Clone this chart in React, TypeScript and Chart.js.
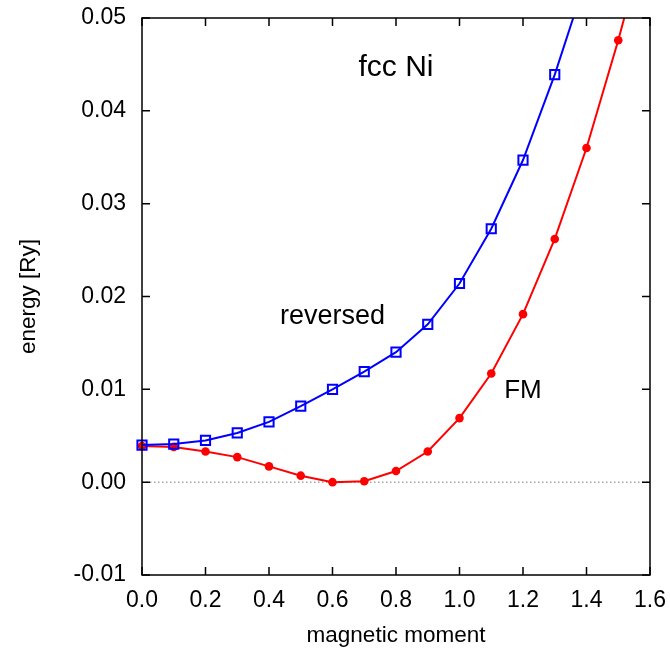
import React, { useEffect, useRef } from "react";
import { Chart, registerables } from "chart.js";

Chart.register(...registerables);

const moments = [0.0, 0.1, 0.2, 0.3, 0.4, 0.5, 0.6, 0.7, 0.8, 0.9, 1.0, 1.1, 1.2, 1.3, 1.4, 1.5, 1.6];
const reversedEnergy = [0.0040, 0.0041, 0.0045, 0.0053, 0.0065, 0.0082, 0.0100, 0.0119, 0.0140, 0.0170, 0.0214, 0.0273, 0.0347, 0.0439, 0.0544];
const fmEnergy = [0.0039, 0.0038, 0.0033, 0.0027, 0.0017, 0.0007, 0.0000, 0.0001, 0.0012, 0.0033, 0.0069, 0.0117, 0.0181, 0.0262, 0.0360, 0.0476, 0.0603];
const xTicks = [0.0, 0.2, 0.4, 0.6, 0.8, 1.0, 1.2, 1.4, 1.6];
const yTicks = [-0.01, 0.0, 0.01, 0.02, 0.03, 0.04, 0.05];
const textLabels = ["fcc Ni", "reversed", "FM"];
const textX = [0.8, 0.6, 1.2];
const textY = [0.0438, 0.0170, 0.0091];
const textSizes = [30, 27, 26];

const FONT = "'Liberation Sans', Arial, Helvetica, sans-serif";

const zeroPad = (s: any) => {
  s.paddingTop = 0;
  s.paddingBottom = 0;
  s.paddingLeft = 0;
  s.paddingRight = 0;
};

export default function App() {
  const ref = useRef<HTMLCanvasElement | null>(null);

  useEffect(() => {
    document.body.style.margin = "0";
    const canvas = ref.current;
    if (!canvas) return;

    const framePlugin = {
      id: "frame",
      beforeDatasetsDraw(chart: any) {
        const { ctx, chartArea: a, scales } = chart;
        const y0 = scales.y.getPixelForValue(0);
        ctx.save();
        ctx.strokeStyle = "#777";
        ctx.lineWidth = 1;
        ctx.setLineDash([1.5, 2.5]);
        ctx.beginPath();
        ctx.moveTo(a.left, y0);
        ctx.lineTo(a.right, y0);
        ctx.stroke();
        ctx.restore();
      },
      afterDraw(chart: any) {
        const { ctx, chartArea: a, scales } = chart;
        const tl = 8;
        ctx.save();
        ctx.strokeStyle = "#000";
        ctx.lineWidth = 1.5;
        ctx.strokeRect(a.left, a.top, a.right - a.left, a.bottom - a.top);
        ctx.beginPath();
        for (const v of xTicks) {
          const px = scales.x.getPixelForValue(v);
          ctx.moveTo(px, a.bottom);
          ctx.lineTo(px, a.bottom - tl);
          ctx.moveTo(px, a.top);
          ctx.lineTo(px, a.top + tl);
        }
        for (const v of yTicks) {
          const py = scales.y.getPixelForValue(v);
          ctx.moveTo(a.left, py);
          ctx.lineTo(a.left + tl, py);
          ctx.moveTo(a.right, py);
          ctx.lineTo(a.right - tl, py);
        }
        ctx.stroke();
        ctx.fillStyle = "#000";
        ctx.textAlign = "center";
        ctx.textBaseline = "alphabetic";
        textLabels.forEach((t, i) => {
          ctx.font = `${textSizes[i]}px ${FONT}`;
          ctx.fillText(t, scales.x.getPixelForValue(textX[i]), scales.y.getPixelForValue(textY[i]));
        });
        ctx.restore();
      },
    };

    const chart = new Chart(canvas, {
      type: "line",
      data: {
        datasets: [
          {
            label: "reversed",
            data: reversedEnergy.map((v, i) => ({ x: moments[i], y: v })),
            borderColor: "#0000ff",
            backgroundColor: "rgba(0,0,0,0)",
            borderWidth: 2,
            pointStyle: "rect",
            pointRadius: 6.5,
            pointBorderWidth: 2,
            pointBorderColor: "#0000ff",
            pointBackgroundColor: "rgba(0,0,0,0)",
            tension: 0,
            order: 0,
            clip: { left: 10, top: 0, right: 0, bottom: 10 },
          } as any,
          {
            label: "FM",
            data: fmEnergy.map((v, i) => ({ x: moments[i], y: v })),
            borderColor: "#ff0000",
            backgroundColor: "#ff0000",
            borderWidth: 2,
            pointStyle: "circle",
            pointRadius: 4.3,
            pointBorderWidth: 0,
            pointBackgroundColor: "#ff0000",
            tension: 0,
            order: 1,
            clip: { left: 10, top: 0, right: 0, bottom: 10 },
          } as any,
        ],
      },
      options: {
        animation: false,
        responsive: false,
        layout: { autoPadding: false, padding: { top: 18, right: 20, left: 0, bottom: 0 } },
        plugins: { legend: { display: false }, tooltip: { enabled: false } },
        scales: {
          x: {
            type: "linear",
            min: 0,
            max: 1.6,
            afterFit: (s: any) => { s.height = 75; zeroPad(s); },
            afterBuildTicks: (s: any) => { s.ticks = xTicks.map((v) => ({ value: v })); },
            grid: { display: false, drawTicks: false },
            border: { display: false },
            ticks: {
              padding: 12,
              color: "#000",
              font: { family: FONT, size: 23 },
              callback: (v: any) => Number(v).toFixed(1),
              maxRotation: 0,
            },
            title: {
              display: true,
              text: "magnetic moment",
              color: "#000",
              font: { family: FONT, size: 22.5 },
              padding: { top: 0, bottom: 1 },
            },
          },
          y: {
            type: "linear",
            min: -0.01,
            max: 0.05,
            afterFit: (s: any) => { s.width = 142; zeroPad(s); },
            afterBuildTicks: (s: any) => { s.ticks = yTicks.map((v) => ({ value: v })); },
            grid: { display: false, drawTicks: false },
            border: { display: false },
            ticks: {
              padding: 16,
              color: "#000",
              font: { family: FONT, size: 23 },
              callback: (v: any) => Number(v).toFixed(2),
            },
            title: {
              display: true,
              text: "energy [Ry]",
              color: "#000",
              font: { family: FONT, size: 22.5 },
              padding: { top: 15, bottom: 0 },
            },
          },
        },
      },
      plugins: [framePlugin],
    });

    return () => chart.destroy();
  }, []);

  return <canvas ref={ref} width={670} height={650} style={{ display: "block" }} />;
}
